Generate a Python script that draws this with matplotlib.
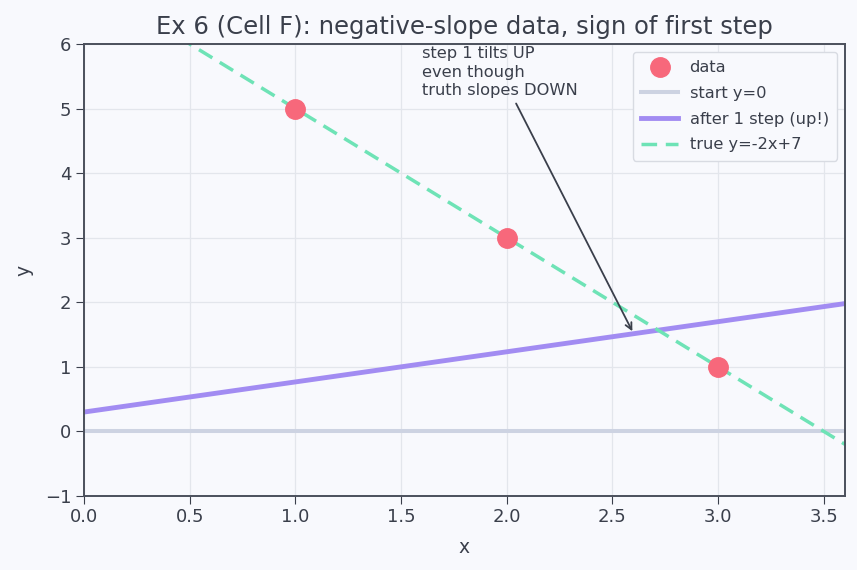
import numpy as np
import matplotlib
matplotlib.use("Agg")
import matplotlib.pyplot as plt

plt.rcParams['font.family'] = ['DejaVu Sans']

x_data = [1, 2, 3]
y_data = [5, 3, 1]
start_b, start_w = 0.0, 0.0
step_w, step_b = 0.4667, 0.3
true_w, true_b = -2.0, 7.0

bg = "#f8f9fd"
fig = plt.figure(figsize=(8.57, 5.70), dpi=100, facecolor=bg)
ax = fig.add_axes([84/857, 1-496/570, 761/857, 452/570])
ax.set_facecolor(bg)

xs = np.linspace(0, 3.6, 100)
ax.grid(True, color="#e3e6ec", linewidth=0.9)
ax.set_axisbelow(True)
ax.plot(x_data, y_data, "o", color="#f7687b", markersize=14, label="data", zorder=5)
ax.plot(xs, start_w*xs + start_b, color="#cdd3e2", linewidth=2.9, label="start y=0")
ax.plot(xs, step_w*xs + step_b, color="#a28cf2", linewidth=3.5, label="after 1 step (up!)")
ax.plot(xs, true_w*xs + true_b, color="#6ee3b6", linewidth=2.5, linestyle=(0, (4.5, 2.5)), label="true y=-2x+7")

ax.annotate("step 1 tilts UP\neven though\ntruth slopes DOWN",
            xy=(2.6, step_w*2.6 + step_b), xytext=(1.6, 5.16),
            fontsize=11.7, color="#3a3f4b", va="bottom", ha="left", linespacing=1.3,
            arrowprops=dict(arrowstyle="->", color="#3a3f4b", lw=1.3))

ax.set_xlim(0, 3.6)
ax.set_ylim(-1, 6)
ax.set_xticks([0, 0.5, 1, 1.5, 2, 2.5, 3, 3.5])
ax.set_yticks(range(-1, 7))
ax.tick_params(labelsize=13, colors="#3a3f4b", length=5.5)
for s in ax.spines.values():
    s.set_color("#4b505c")
    s.set_linewidth(1.4)
ax.set_xlabel("x", fontsize=13.5, color="#3a3f4b", labelpad=8)
ax.set_ylabel("y", fontsize=13.5, color="#3a3f4b", labelpad=8)
ax.set_title("Ex 6 (Cell F): negative-slope data, sign of first step", fontsize=17.5, color="#3a3f4b", pad=7)
leg = ax.legend(loc="upper right", fontsize=11.7, framealpha=1, facecolor=bg, edgecolor="#d8dbe2",
                labelcolor="#3a3f4b", borderpad=0.5, labelspacing=0.66, handlelength=2.3,
                handletextpad=0.7)
fig.savefig("out.png", dpi=100, facecolor=bg)
